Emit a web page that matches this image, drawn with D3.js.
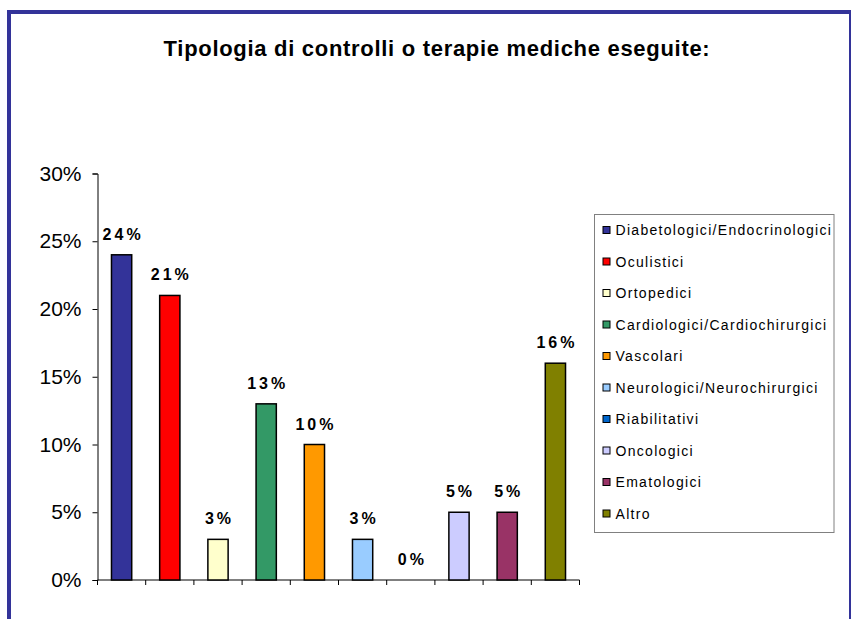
<!DOCTYPE html>
<html>
<head>
<meta charset="utf-8">
<script src="https://cdn.jsdelivr.net/npm/d3@7"></script>
<style>
  html, body { margin: 0; padding: 0; background: #fff; }
  svg { display: block; }
  text { font-family: Arial, "Liberation Sans", sans-serif; }
</style>
</head>
<body>
<svg id="chart" width="851" height="619"></svg>
<script>
const categories = [
  "Diabetologici/Endocrinologici",
  "Oculistici",
  "Ortopedici",
  "Cardiologici/Cardiochirurgici",
  "Vascolari",
  "Neurologici/Neurochirurgici",
  "Riabilitativi",
  "Oncologici",
  "Ematologici",
  "Altro"
];
const values = [0.24, 0.21, 0.03, 0.13, 0.10, 0.03, 0.00, 0.05, 0.05, 0.16];
const colors = ["#333399", "#FF0000", "#FFFFCC", "#339966", "#FF9900", "#99CCFF", "#0066CC", "#CCCCFF", "#993366", "#808000"];
const yTicks = [0, 0.05, 0.10, 0.15, 0.20, 0.25, 0.30];
const title = "Tipologia di controlli o terapie mediche eseguite:";

const svg = d3.select("#chart");

// outer frame
svg.append("rect")
  .attr("x", 9).attr("y", 12)
  .attr("width", 842).attr("height", 640)
  .attr("fill", "#fff")
  .attr("stroke", "#333399")
  .attr("stroke-width", 4);

// title
svg.append("text")
  .attr("x", 437).attr("y", 56)
  .attr("text-anchor", "middle")
  .attr("font-size", 22)
  .attr("font-weight", "bold")
  .style("letter-spacing", "0.7px")
  .text(title);

const plotLeft = 97.5, plotRight = 579.5, plotTop = 173.5, plotBottom = 580;

const y = d3.scaleLinear().domain([0, 0.30]).range([plotBottom, plotTop]);
const xTick = d3.scaleBand().domain(categories).range([plotLeft, plotRight]).padding(0);
const x = d3.scaleBand().domain(categories).range([plotLeft, plotRight])
  .paddingInner(0.58).paddingOuter(0.29);

// y axis
const yAxis = d3.axisLeft(y).tickValues(yTicks)
  .tickFormat(d3.format(".0%")).tickSize(5).tickPadding(11);
const gy = svg.append("g").attr("transform", `translate(${plotLeft},0)`).call(yAxis);
gy.selectAll("text").attr("font-size", 21).attr("fill", "#000")
  .style("font-family", "Arial, 'Liberation Sans', sans-serif");
gy.selectAll("line, path").attr("stroke", "#000");

// x axis (ticks at category boundaries)
const gx = svg.append("g");
gx.append("line")
  .attr("x1", plotLeft).attr("x2", plotRight)
  .attr("y1", plotBottom).attr("y2", plotBottom)
  .attr("stroke", "#000");
const bounds = categories.map(c => xTick(c)).concat([plotRight]);
gx.selectAll("line.tick").data(bounds).join("line")
  .attr("class", "tick")
  .attr("x1", d => d).attr("x2", d => d)
  .attr("y1", plotBottom).attr("y2", plotBottom + 5)
  .attr("stroke", "#000");

// bars
svg.append("g").selectAll("rect").data(categories).join("rect")
  .attr("x", c => x(c))
  .attr("width", x.bandwidth())
  .attr("y", (c, i) => y(values[i]))
  .attr("height", (c, i) => plotBottom - y(values[i]))
  .attr("fill", (c, i) => colors[i])
  .attr("stroke", "#000")
  .attr("stroke-width", 1.5);

// value labels
svg.append("g").selectAll("text").data(categories).join("text")
  .attr("x", c => x(c) + x.bandwidth() / 2 + 1.5)
  .attr("y", (c, i) => y(values[i]) - 15)
  .attr("text-anchor", "middle")
  .attr("font-size", 16)
  .attr("font-weight", "bold")
  .style("letter-spacing", "3px")
  .text((c, i) => d3.format(".0%")(values[i]));

// legend
const lg = svg.append("g");
lg.append("rect")
  .attr("x", 594.5).attr("y", 214.5)
  .attr("width", 239.5).attr("height", 318)
  .attr("fill", "#fff")
  .attr("stroke", "#808080")
  .attr("stroke-width", 1);
const rowY = d3.scalePoint().domain(categories).range([230, 513.5]);
const items = lg.selectAll("g.item").data(categories).join("g").attr("class", "item");
items.append("rect")
  .attr("x", 603).attr("y", c => rowY(c) - 3.5)
  .attr("width", 7).attr("height", 7)
  .attr("fill", (c, i) => colors[i])
  .attr("stroke", "#000").attr("stroke-width", 1);
items.append("text")
  .attr("x", 615.5).attr("y", c => rowY(c) + 5)
  .attr("font-size", 14)
  .style("letter-spacing", "1.3px")
  .text(c => c);
</script>
</body>
</html>
